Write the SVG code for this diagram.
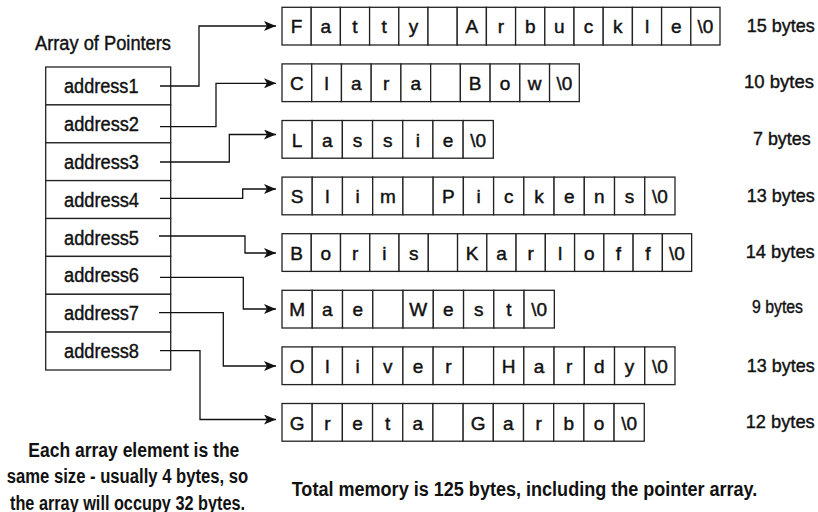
<svg xmlns="http://www.w3.org/2000/svg" width="818" height="512" viewBox="0 0 818 512">
<style>
  text { font-family: "Liberation Sans", Arial, sans-serif; fill: #111; }
  .lbl { font-size: 19.5px; stroke: #111; stroke-width: 0.4; }
  .byt { font-size: 18.5px; stroke: #111; stroke-width: 0.4; }
  .bold { font-size: 19.5px; font-weight: bold; }
  .ch { font-size: 19px; text-anchor: middle; stroke: #111; stroke-width: 0.45; }
  .box { fill: #fff; stroke: #222; stroke-width: 1.3; }
  .conn { fill: none; stroke: #111; stroke-width: 1.3; }
</style>
<defs>
  <marker id="arr" markerUnits="userSpaceOnUse" markerWidth="12" markerHeight="10" refX="12" refY="5" orient="auto">
    <path d="M0,0 L12,5 L0,10 L3,5 z" fill="#111"/>
  </marker>
</defs>
<rect width="818" height="512" fill="#fff"/>

<g id="array">
  <text class="lbl" x="35" y="50" textLength="136" lengthAdjust="spacingAndGlyphs">Array of Pointers</text>
  <rect class="box" x="45.7" y="67" width="125" height="37.9"/>
  <rect class="box" x="45.7" y="104.9" width="125" height="37.9"/>
  <rect class="box" x="45.7" y="142.8" width="125" height="37.8"/>
  <rect class="box" x="45.7" y="180.6" width="125" height="37.9"/>
  <rect class="box" x="45.7" y="218.5" width="125" height="37.9"/>
  <rect class="box" x="45.7" y="256.4" width="125" height="37.9"/>
  <rect class="box" x="45.7" y="294.3" width="125" height="37.8"/>
  <rect class="box" x="45.7" y="332.1" width="125" height="37.9"/>
  <text class="lbl" x="64" y="93" textLength="74.5" lengthAdjust="spacingAndGlyphs">address1</text>
  <text class="lbl" x="64" y="131" textLength="75" lengthAdjust="spacingAndGlyphs">address2</text>
  <text class="lbl" x="64" y="168.8" textLength="75" lengthAdjust="spacingAndGlyphs">address3</text>
  <text class="lbl" x="64" y="206.6" textLength="75" lengthAdjust="spacingAndGlyphs">address4</text>
  <text class="lbl" x="64" y="244.5" textLength="75" lengthAdjust="spacingAndGlyphs">address5</text>
  <text class="lbl" x="64" y="282.4" textLength="75" lengthAdjust="spacingAndGlyphs">address6</text>
  <text class="lbl" x="64" y="320.3" textLength="75" lengthAdjust="spacingAndGlyphs">address7</text>
  <text class="lbl" x="64" y="358.1" textLength="75" lengthAdjust="spacingAndGlyphs">address8</text>
</g>

<g id="connectors">
  <path class="conn" marker-end="url(#arr)" d="M160,86 H199 V26 H276"/>
  <path class="conn" marker-end="url(#arr)" d="M160,126.7 H216 V83.3 H276"/>
  <path class="conn" marker-end="url(#arr)" d="M160,162 H229.3 V134.5 H276"/>
  <path class="conn" marker-end="url(#arr)" d="M160,198.3 H242.7 V189 H276"/>
  <path class="conn" marker-end="url(#arr)" d="M159,236 H245 V253 H276"/>
  <path class="conn" marker-end="url(#arr)" d="M160,277.3 H243.3 V309 H276"/>
  <path class="conn" marker-end="url(#arr)" d="M159,312.7 H223.3 V366 H276"/>
  <path class="conn" marker-end="url(#arr)" d="M160,350.7 H200 V419.5 H276"/>
</g>

<g id="str1">
  <rect class="box" x="282" y="7.3" width="29.2" height="37.7"/><rect class="box" x="311.2" y="7.3" width="29.2" height="37.7"/><rect class="box" x="340.4" y="7.3" width="29.2" height="37.7"/><rect class="box" x="369.6" y="7.3" width="29.2" height="37.7"/><rect class="box" x="398.8" y="7.3" width="29.2" height="37.7"/><rect class="box" x="428" y="7.3" width="29.2" height="37.7"/><rect class="box" x="457.2" y="7.3" width="29.2" height="37.7"/><rect class="box" x="486.4" y="7.3" width="29.2" height="37.7"/><rect class="box" x="515.6" y="7.3" width="29.2" height="37.7"/><rect class="box" x="544.8" y="7.3" width="29.2" height="37.7"/><rect class="box" x="574" y="7.3" width="29.2" height="37.7"/><rect class="box" x="603.2" y="7.3" width="29.2" height="37.7"/><rect class="box" x="632.4" y="7.3" width="29.2" height="37.7"/><rect class="box" x="661.6" y="7.3" width="29.2" height="37.7"/><rect class="box" x="690.8" y="7.3" width="29.2" height="37.7"/>
  <text class="ch" y="33.3"><tspan x="296.6">F</tspan><tspan x="325.8">a</tspan><tspan x="355">t</tspan><tspan x="384.2">t</tspan><tspan x="413.4">y</tspan><tspan x="471.8">A</tspan><tspan x="501">r</tspan><tspan x="530.2">b</tspan><tspan x="559.4">u</tspan><tspan x="588.6">c</tspan><tspan x="617.8">k</tspan><tspan x="647">l</tspan><tspan x="676.2">e</tspan><tspan x="705.4">\0</tspan></text>
  <text class="byt" x="746.7" y="32.3" textLength="68" lengthAdjust="spacingAndGlyphs">15 bytes</text>
</g>

<g id="str2">
  <rect class="box" x="282" y="63.9" width="29.73" height="37.7"/><rect class="box" x="311.73" y="63.9" width="29.73" height="37.7"/><rect class="box" x="341.46" y="63.9" width="29.73" height="37.7"/><rect class="box" x="371.19" y="63.9" width="29.73" height="37.7"/><rect class="box" x="400.92" y="63.9" width="29.73" height="37.7"/><rect class="box" x="430.65" y="63.9" width="29.73" height="37.7"/><rect class="box" x="460.38" y="63.9" width="29.73" height="37.7"/><rect class="box" x="490.11" y="63.9" width="29.73" height="37.7"/><rect class="box" x="519.84" y="63.9" width="29.73" height="37.7"/><rect class="box" x="549.57" y="63.9" width="29.73" height="37.7"/>
  <text class="ch" y="89.9"><tspan x="296.9">C</tspan><tspan x="326.6">l</tspan><tspan x="356.3">a</tspan><tspan x="386.1">r</tspan><tspan x="415.8">a</tspan><tspan x="475.2">B</tspan><tspan x="505">o</tspan><tspan x="534.7">w</tspan><tspan x="564.4">\0</tspan></text>
  <text class="byt" x="744" y="88.3" textLength="70" lengthAdjust="spacingAndGlyphs">10 bytes</text>
</g>

<g id="str3">
  <rect class="box" x="282" y="120.5" width="30.19" height="37.7"/><rect class="box" x="312.19" y="120.5" width="30.19" height="37.7"/><rect class="box" x="342.38" y="120.5" width="30.19" height="37.7"/><rect class="box" x="372.57" y="120.5" width="30.19" height="37.7"/><rect class="box" x="402.76" y="120.5" width="30.19" height="37.7"/><rect class="box" x="432.95" y="120.5" width="30.19" height="37.7"/><rect class="box" x="463.14" y="120.5" width="30.19" height="37.7"/>
  <text class="ch" y="146.5"><tspan x="297.1">L</tspan><tspan x="327.3">a</tspan><tspan x="357.5">s</tspan><tspan x="387.7">s</tspan><tspan x="417.9">i</tspan><tspan x="448">e</tspan><tspan x="478.2">\0</tspan></text>
  <text class="byt" x="753" y="145" textLength="57.7" lengthAdjust="spacingAndGlyphs">7 bytes</text>
</g>

<g id="str4">
  <rect class="box" x="282" y="177.1" width="30.23" height="37.7"/><rect class="box" x="312.23" y="177.1" width="30.23" height="37.7"/><rect class="box" x="342.46" y="177.1" width="30.23" height="37.7"/><rect class="box" x="372.69" y="177.1" width="30.23" height="37.7"/><rect class="box" x="402.92" y="177.1" width="30.23" height="37.7"/><rect class="box" x="433.15" y="177.1" width="30.23" height="37.7"/><rect class="box" x="463.38" y="177.1" width="30.23" height="37.7"/><rect class="box" x="493.61" y="177.1" width="30.23" height="37.7"/><rect class="box" x="523.84" y="177.1" width="30.23" height="37.7"/><rect class="box" x="554.07" y="177.1" width="30.23" height="37.7"/><rect class="box" x="584.3" y="177.1" width="30.23" height="37.7"/><rect class="box" x="614.53" y="177.1" width="30.23" height="37.7"/><rect class="box" x="644.76" y="177.1" width="30.23" height="37.7"/>
  <text class="ch" y="203.1"><tspan x="297.1">S</tspan><tspan x="327.3">l</tspan><tspan x="357.6">i</tspan><tspan x="387.8">m</tspan><tspan x="448.3">P</tspan><tspan x="478.5">i</tspan><tspan x="508.7">c</tspan><tspan x="539">k</tspan><tspan x="569.2">e</tspan><tspan x="599.4">n</tspan><tspan x="629.6">s</tspan><tspan x="659.9">\0</tspan></text>
  <text class="byt" x="746.7" y="202" textLength="68" lengthAdjust="spacingAndGlyphs">13 bytes</text>
</g>

<g id="str5">
  <rect class="box" x="282" y="233.7" width="29.26" height="37.7"/><rect class="box" x="311.26" y="233.7" width="29.26" height="37.7"/><rect class="box" x="340.52" y="233.7" width="29.26" height="37.7"/><rect class="box" x="369.78" y="233.7" width="29.26" height="37.7"/><rect class="box" x="399.04" y="233.7" width="29.26" height="37.7"/><rect class="box" x="428.3" y="233.7" width="29.26" height="37.7"/><rect class="box" x="457.56" y="233.7" width="29.26" height="37.7"/><rect class="box" x="486.82" y="233.7" width="29.26" height="37.7"/><rect class="box" x="516.08" y="233.7" width="29.26" height="37.7"/><rect class="box" x="545.34" y="233.7" width="29.26" height="37.7"/><rect class="box" x="574.6" y="233.7" width="29.26" height="37.7"/><rect class="box" x="603.86" y="233.7" width="29.26" height="37.7"/><rect class="box" x="633.12" y="233.7" width="29.26" height="37.7"/><rect class="box" x="662.38" y="233.7" width="29.26" height="37.7"/>
  <text class="ch" y="259.7"><tspan x="296.6">B</tspan><tspan x="325.9">o</tspan><tspan x="355.2">r</tspan><tspan x="384.4">i</tspan><tspan x="413.7">s</tspan><tspan x="472.2">K</tspan><tspan x="501.5">a</tspan><tspan x="530.7">r</tspan><tspan x="560">l</tspan><tspan x="589.2">o</tspan><tspan x="618.5">f</tspan><tspan x="647.8">f</tspan><tspan x="677">\0</tspan></text>
  <text class="byt" x="745.7" y="258" textLength="69" lengthAdjust="spacingAndGlyphs">14 bytes</text>
</g>

<g id="str6">
  <rect class="box" x="282" y="290.3" width="30.26" height="37.7"/><rect class="box" x="312.26" y="290.3" width="30.26" height="37.7"/><rect class="box" x="342.52" y="290.3" width="30.26" height="37.7"/><rect class="box" x="372.78" y="290.3" width="30.26" height="37.7"/><rect class="box" x="403.04" y="290.3" width="30.26" height="37.7"/><rect class="box" x="433.3" y="290.3" width="30.26" height="37.7"/><rect class="box" x="463.56" y="290.3" width="30.26" height="37.7"/><rect class="box" x="493.82" y="290.3" width="30.26" height="37.7"/><rect class="box" x="524.08" y="290.3" width="30.26" height="37.7"/>
  <text class="ch" y="316.3"><tspan x="297.1">M</tspan><tspan x="327.4">a</tspan><tspan x="357.7">e</tspan><tspan x="418.2">W</tspan><tspan x="448.4">e</tspan><tspan x="478.7">s</tspan><tspan x="509">t</tspan><tspan x="539.2">\0</tspan></text>
  <text class="byt" x="752" y="313" textLength="51" lengthAdjust="spacingAndGlyphs">9 bytes</text>
</g>

<g id="str7">
  <rect class="box" x="282" y="346.9" width="30.23" height="37.7"/><rect class="box" x="312.23" y="346.9" width="30.23" height="37.7"/><rect class="box" x="342.46" y="346.9" width="30.23" height="37.7"/><rect class="box" x="372.69" y="346.9" width="30.23" height="37.7"/><rect class="box" x="402.92" y="346.9" width="30.23" height="37.7"/><rect class="box" x="433.15" y="346.9" width="30.23" height="37.7"/><rect class="box" x="463.38" y="346.9" width="30.23" height="37.7"/><rect class="box" x="493.61" y="346.9" width="30.23" height="37.7"/><rect class="box" x="523.84" y="346.9" width="30.23" height="37.7"/><rect class="box" x="554.07" y="346.9" width="30.23" height="37.7"/><rect class="box" x="584.3" y="346.9" width="30.23" height="37.7"/><rect class="box" x="614.53" y="346.9" width="30.23" height="37.7"/><rect class="box" x="644.76" y="346.9" width="30.23" height="37.7"/>
  <text class="ch" y="372.9"><tspan x="297.1">O</tspan><tspan x="327.3">l</tspan><tspan x="357.6">i</tspan><tspan x="387.8">v</tspan><tspan x="418">e</tspan><tspan x="448.3">r</tspan><tspan x="508.7">H</tspan><tspan x="539">a</tspan><tspan x="569.2">r</tspan><tspan x="599.4">d</tspan><tspan x="629.6">y</tspan><tspan x="659.9">\0</tspan></text>
  <text class="byt" x="746.7" y="372" textLength="68" lengthAdjust="spacingAndGlyphs">13 bytes</text>
</g>

<g id="str8">
  <rect class="box" x="282" y="403.5" width="30.19" height="37.7"/><rect class="box" x="312.19" y="403.5" width="30.19" height="37.7"/><rect class="box" x="342.38" y="403.5" width="30.19" height="37.7"/><rect class="box" x="372.57" y="403.5" width="30.19" height="37.7"/><rect class="box" x="402.76" y="403.5" width="30.19" height="37.7"/><rect class="box" x="432.95" y="403.5" width="30.19" height="37.7"/><rect class="box" x="463.14" y="403.5" width="30.19" height="37.7"/><rect class="box" x="493.33" y="403.5" width="30.19" height="37.7"/><rect class="box" x="523.52" y="403.5" width="30.19" height="37.7"/><rect class="box" x="553.71" y="403.5" width="30.19" height="37.7"/><rect class="box" x="583.9" y="403.5" width="30.19" height="37.7"/><rect class="box" x="614.09" y="403.5" width="30.19" height="37.7"/>
  <text class="ch" y="429.5"><tspan x="297.1">G</tspan><tspan x="327.3">r</tspan><tspan x="357.5">e</tspan><tspan x="387.7">t</tspan><tspan x="417.9">a</tspan><tspan x="478.2">G</tspan><tspan x="508.4">a</tspan><tspan x="538.6">r</tspan><tspan x="568.8">b</tspan><tspan x="599">o</tspan><tspan x="629.2">\0</tspan></text>
  <text class="byt" x="745.7" y="428" textLength="69" lengthAdjust="spacingAndGlyphs">12 bytes</text>
</g>

<g id="notes">
  <text class="bold" x="28.3" y="456.7" textLength="211" lengthAdjust="spacingAndGlyphs">Each array element is the</text>
  <text class="bold" x="6.7" y="483.3" textLength="241.6" lengthAdjust="spacingAndGlyphs">same size - usually 4 bytes, so</text>
  <text class="bold" x="10" y="509.5" textLength="235" lengthAdjust="spacingAndGlyphs">the array will occupy 32 bytes.</text>
  <text class="bold" x="291.7" y="496" textLength="465.6" lengthAdjust="spacingAndGlyphs">Total memory is 125 bytes, including the pointer array.</text>
</g>
</svg>
